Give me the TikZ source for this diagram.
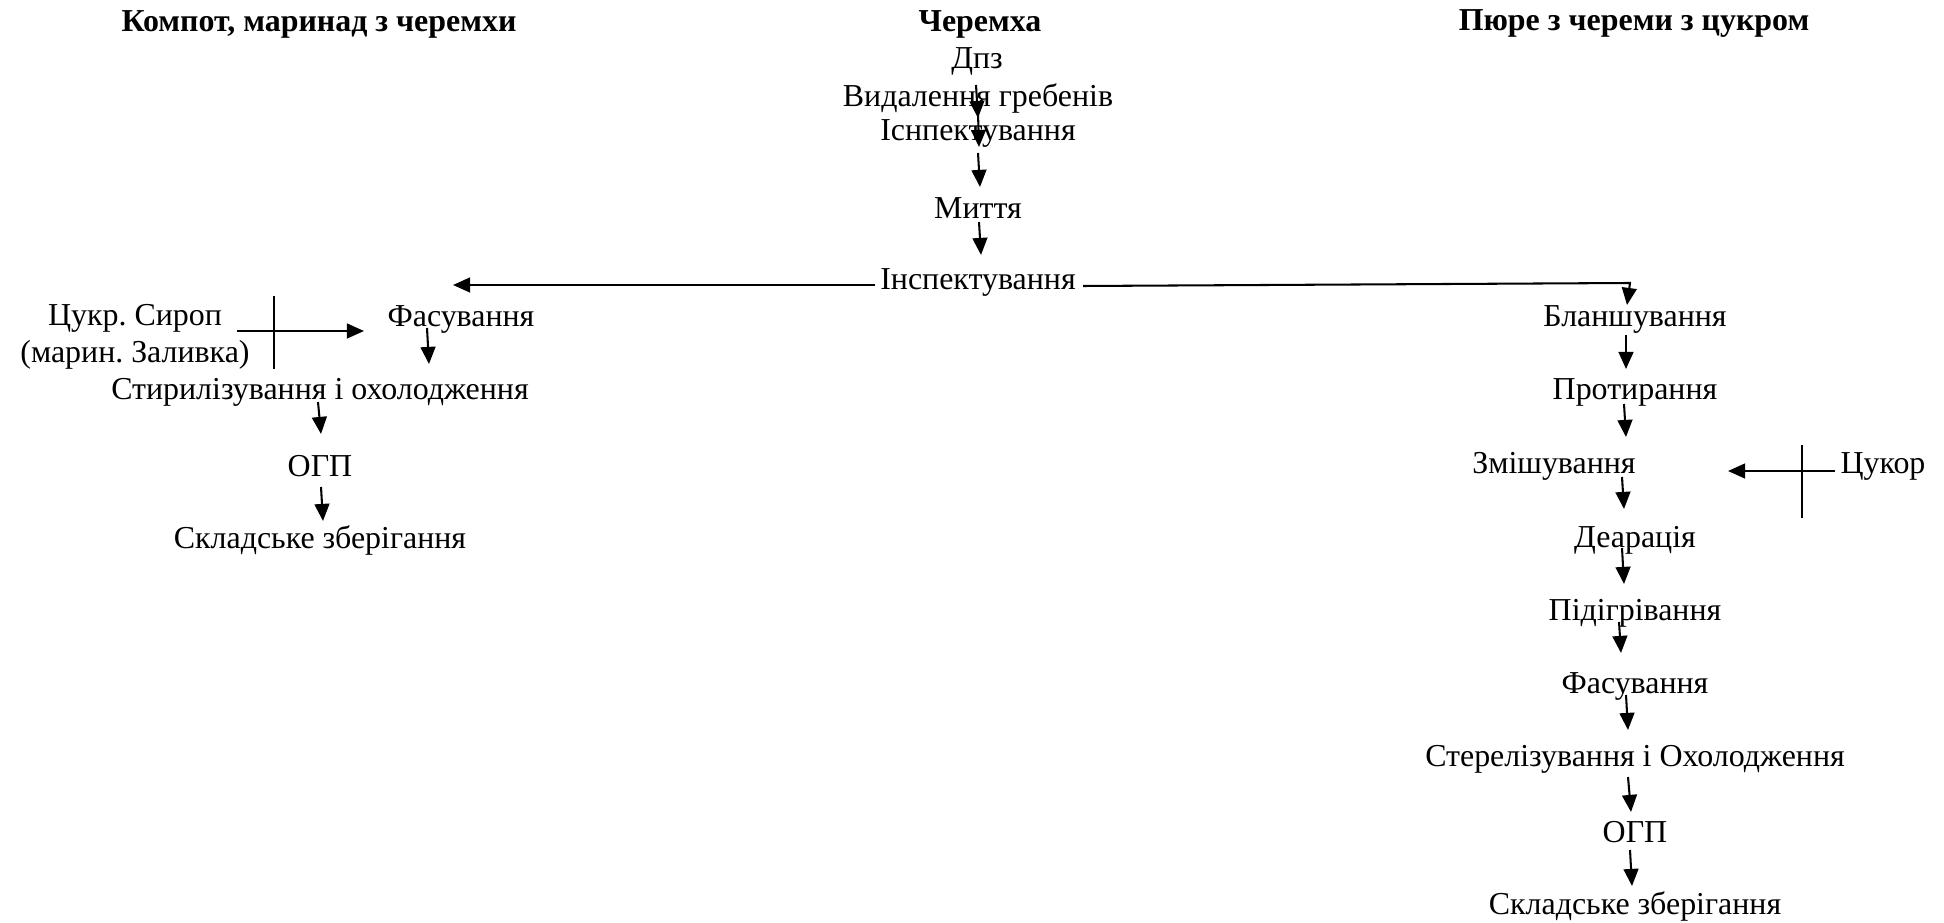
\documentclass[tikz,border=0pt]{standalone}
\usepackage{fontspec}
\setmainfont{Liberation Serif}
\usetikzlibrary{calc, arrows.meta}
\frenchspacing

\tikzset{
  stage/.style={inner sep=0pt, align=center, font=\fontsize{14}{16.1}\selectfont},
  heading/.style={stage, font=\fontsize{14}{16.1}\selectfont\bfseries},
  arr/.style={line width=0.9pt, -{Triangle[length=7.5pt,width=6.5pt]}}
}

\begin{document}
\begin{tikzpicture}[x=0.4386pt, y=-0.4386pt]
\useasboundingbox (0,0) rectangle (1944,923);
\node[heading] (tleft) at (319,24) {Компот, маринад з черемхи};
\node[heading] (tmid) at (980,24) {Черемха};
\node[heading] (tright) at (1634,24) {Пюре з череми з цукром};

\node[stage] (dpz) at (977,61) {Дпз};
\node[stage] (vydal) at (978,98) {Видалення гребенів};
\node[stage] (isnp) at (978,134) {Існпектування};
\node[stage] (myttia) at (978,208) {Миття};
\node[stage] (insp) at (978,282) {Інспектування};

\node[stage] (syrup) at (135,337) {Цукр. Сироп\\(марин. Заливка)};
\node[stage] (fasl) at (461,319) {Фасування};
\node[stage] (sterl) at (320,392) {Стирилізування і охолодження};
\node[stage] (ogpl) at (320,466) {ОГП};
\node[stage] (skladl) at (320,540) {Складське зберігання};

\node[stage] (blansh) at (1635,319) {Бланшування};
\node[stage] (protyr) at (1635,392) {Протирання};
\node[stage] (zmish) at (1554,466) {Змішування};
\node[stage] (tsukor) at (1883,466) {Цукор};
\node[stage] (dear) at (1635,540) {Деарація};
\node[stage] (pidigr) at (1635,613) {Підігрівання};
\node[stage] (fasr) at (1635,686) {Фасування};
\node[stage] (sterr) at (1635,759) {Стерелізування і Охолодження};
\node[stage] (ogpr) at (1635,832) {ОГП};
\node[stage] (skladr) at (1635,906) {Складське зберігання};

\draw[arr] ($(dpz)+(-1,24)$) -- ($(vydal)+(0,20)$);
\draw[arr] ($(vydal)+(0,15)$) -- ($(isnp)+(1,13)$);
\draw[arr] ($(isnp)+(0,19)$) -- ($(myttia)+(2,-21)$);
\draw[arr] ($(myttia)+(1,14)$) -- ($(insp)+(3,-27)$);
\draw[arr] ($(insp)+(-103,3)$) -- ($(fasl)+(-8,-34)$);
\draw[arr] ($(insp)+(105,4)$) -- ++(547,-3) -- ($(blansh)+(-8,-14)$);

\draw[arr] ($(syrup)+(102,-6)$) -- ($(fasl)+(-97,12)$);
\draw[line width=0.9pt] ($(syrup)+(139,-41)$) -- ($(syrup)+(139,32)$);
\draw[arr] ($(fasl)+(-34,9)$) -- ($(sterl)+(109,-28)$);
\draw[arr] ($(sterl)+(-2,10)$) -- ($(ogpl)+(1,-32)$);
\draw[arr] ($(ogpl)+(1,21)$) -- ($(skladl)+(3,-19)$);

\draw[arr] ($(blansh)+(-9,16)$) -- ($(protyr)+(-9,-23)$);
\draw[arr] ($(protyr)+(-11,12)$) -- ($(zmish)+(72,-29)$);
\draw[arr] ($(zmish)+(68,11)$) -- ($(dear)+(-11,-31)$);
\draw[arr] ($(dear)+(-13,8)$) -- ($(pidigr)+(-11,-29)$);
\draw[arr] ($(pidigr)+(-16,9)$) -- ($(fasr)+(-14,-33)$);
\draw[arr] ($(fasr)+(-9,9)$) -- ($(sterr)+(-7,-29)$);
\draw[arr] ($(sterr)+(-7,18)$) -- ($(ogpr)+(-4,-20)$);
\draw[arr] ($(ogpr)+(-5,18)$) -- ($(skladr)+(-3,-20)$);
\draw[arr] ($(tsukor)+(-48,5)$) -- ($(zmish)+(174,5)$);
\draw[line width=0.9pt] ($(tsukor)+(-81,-21)$) -- ($(tsukor)+(-81,52)$);
\end{tikzpicture}
\end{document}
